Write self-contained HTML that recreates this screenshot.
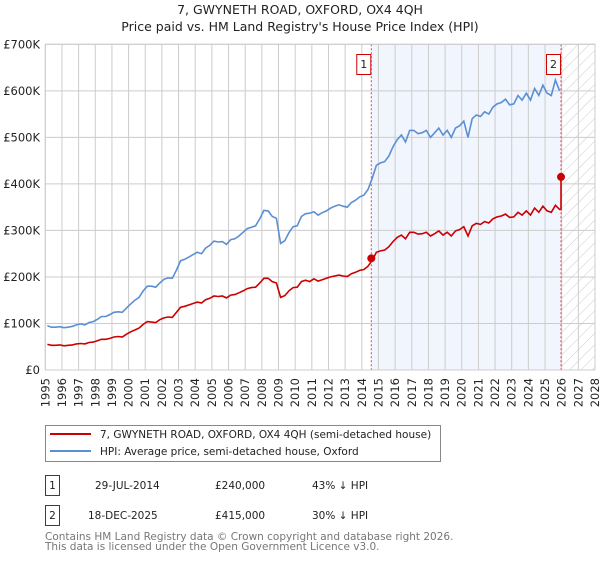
<!DOCTYPE html>
<html><head><meta charset="utf-8"><style>
body{margin:0;background:#fff;}
svg text{font-family:"DejaVu Sans","Liberation Sans",sans-serif;}
</style></head><body>
<svg id="chart" width="600" height="560" xmlns="http://www.w3.org/2000/svg">
<defs>
<pattern id="hatch" width="8" height="8" patternUnits="userSpaceOnUse" patternTransform="rotate(45)">
<rect width="8" height="8" fill="#fff"/><line x1="0" y1="0" x2="0" y2="8" stroke="#cccccc" stroke-width="1"/>
</pattern>
</defs>
<text x="300" y="14" text-anchor="middle" font-size="12.5" fill="#222">7, GWYNETH ROAD, OXFORD, OX4 4QH</text>
<text x="300" y="31" text-anchor="middle" font-size="12.5" fill="#222">Price paid vs. HM Land Registry's House Price Index (HPI)</text>
<g id="plot"></g>
<g>
<rect x="45.5" y="425.5" width="395" height="36" fill="#fff" stroke="#888"/>
<line x1="50" y1="434" x2="91" y2="434" stroke="#cc0000" stroke-width="2"/>
<text x="100" y="438" font-size="10.5" fill="#222">7, GWYNETH ROAD, OXFORD, OX4 4QH (semi-detached house)</text>
<line x1="50" y1="451" x2="91" y2="451" stroke="#5b8fd4" stroke-width="2"/>
<text x="100" y="455" font-size="10.5" fill="#222">HPI: Average price, semi-detached house, Oxford</text>
</g>
<g fill="#222">
<rect x="45.5" y="475.5" width="14" height="20" fill="#fff" stroke="#cc0000"/>
<text x="52.5" y="489" text-anchor="middle" font-size="10.5">1</text>
<text x="95" y="489" font-size="10.5">29-JUL-2014</text>
<text x="215" y="489" font-size="10.5">£240,000</text>
<text x="312" y="489" font-size="10.5">43% ↓ HPI</text>
<rect x="45.5" y="505.5" width="14" height="20" fill="#fff" stroke="#cc0000"/>
<text x="52.5" y="519" text-anchor="middle" font-size="10.5">2</text>
<text x="88" y="519" font-size="10.5">18-DEC-2025</text>
<text x="215" y="519" font-size="10.5">£415,000</text>
<text x="312" y="519" font-size="10.5">30% ↓ HPI</text>
</g>
<text x="45" y="540" font-size="10.5" fill="#777">Contains HM Land Registry data © Crown copyright and database right 2026.</text>
<text x="45" y="550" font-size="10.5" fill="#777">This data is licensed under the Open Government Licence v3.0.</text>
</svg>
<script>
const yTicks=[0,100,200,300,400,500,600,700];
const yTickLabels=["£0","£100K","£200K","£300K","£400K","£500K","£600K","£700K"];
const xYears=[1995,1996,1997,1998,1999,2000,2001,2002,2003,2004,2005,2006,2007,2008,2009,2010,2011,2012,2013,2014,2015,2016,2017,2018,2019,2020,2021,2022,2023,2024,2025,2026,2027,2028];
const hpiStart=1995;
const hpiValues=[95,92,92,93, 91,92,94,97, 99,97,102,104, 109,115,115,119, 124,125,124,133, 142,150,156,170, 180,180,178,187, 195,198,197,215, 235,238,243,248, 253,250,262,268, 277,275,276,270, 280,282,288,296, 304,307,310,325, 343,342,330,326, 272,278,295,308, 310,330,336,337, 340,333,338,342, 348,352,355,352, 350,360,365,372, 376,388,412,440, 445,448,460,480, 495,505,490,515, 515,508,510,515, 500,510,520,505, 515,500,520,525, 535,500,540,548, 545,555,550,565, 572,575,582,570, 572,590,580,595, 580,605,590,612, 595,590,623,600];
const redValues=[55,53,53,54, 52,53,54,56, 57,56,59,60, 63,66,66,68, 71,72,71,77, 82,86,90,98, 104,103,102,108, 112,114,113,124, 135,137,140,143, 146,144,151,154, 159,158,159,155, 161,162,166,170, 175,177,178,187, 197,197,190,187, 156,160,170,177, 178,190,193,190, 196,191,194,197, 200,202,204,202, 201,207,210,214, 216,223,236,253, 256,258,265,276, 285,290,282,296, 296,292,293,296, 288,293,299,290, 296,288,299,302, 308,288,310,315, 313,319,316,325, 329,331,335,328, 329,339,333,342, 333,348,339,352, 342,339,354,345];
const saleDates=[2014.57,2025.96];
const salePrices=[240,415];
const saleLabels=["1","2"];

const X0=45.3,X1=595,Y0=370,Y1=44.3,XMIN=1995,XMAX=2028,VMAX=700;
const xs=t=>X0+(t-XMIN)/(XMAX-XMIN)*(X1-X0);
const ys=v=>Y0-v/VMAX*(Y0-Y1);
const NS="http://www.w3.org/2000/svg";
const plot=document.getElementById('plot');
function mk(tag,attrs,parent){const e=document.createElementNS(NS,tag);for(const k in attrs)e.setAttribute(k,attrs[k]);(parent||plot).appendChild(e);return e;}

let e;
e=mk('rect',{x:xs(saleDates[0]),y:Y1,width:xs(saleDates[1])-xs(saleDates[0]),height:Y0-Y1,fill:'#eef3fc',opacity:0.8});


e=mk('rect',{x:xs(saleDates[1]),y:Y1,width:X1-xs(saleDates[1]),height:Y0-Y1,fill:'url(#hatch)'});



xYears.forEach(y=>{
  e=mk('line',{x1:xs(y),x2:xs(y),y1:Y1,y2:Y0,stroke:'#cccccc','stroke-width':1});
  
  
  e=mk('text',{x:0,y:0,transform:`translate(${xs(y)+4},378) rotate(-90)`,'text-anchor':'end','font-size':11.5,fill:'#222'});
  e.textContent=y;
  
  
});
yTicks.forEach((v,i)=>{
  e=mk('line',{x1:X0,x2:X1,y1:ys(v),y2:ys(v),stroke:'#cccccc','stroke-width':1});
  
  
  e=mk('text',{x:40,y:ys(v)+4,'text-anchor':'end','font-size':11.5,fill:'#222'});
  e.textContent=yTickLabels[i];
  
  
});

saleDates.forEach((d,i)=>{
  e=mk('line',{x1:xs(d),x2:xs(d),y1:Y1,y2:Y0,stroke:'#dd4444','stroke-width':1,'stroke-dasharray':'2,2'});
  
  
});

function pathOf(vals){return vals.map((v,i)=>(i?'L':'M')+xs(hpiStart+i*0.25+0.125).toFixed(1)+','+ys(v).toFixed(1)).join('');}
e=mk('path',{d:pathOf(hpiValues),fill:'none',stroke:'#5b8fd4','stroke-width':1.6});


let rd=pathOf(redValues)+'L'+xs(saleDates[1]).toFixed(1)+','+ys(redValues[redValues.length-1]).toFixed(1)+'L'+xs(saleDates[1]).toFixed(1)+','+ys(salePrices[1]).toFixed(1);
e=mk('path',{d:rd,fill:'none',stroke:'#cc0000','stroke-width':1.6});



saleDates.forEach((d,i)=>{
  e=mk('circle',{cx:xs(d),cy:ys(salePrices[i]),r:4,fill:'#cc0000'});
  
  
  e=mk('rect',{x:xs(d)-14.5,y:54.5,width:14,height:20,fill:'#fff',stroke:'#cc0000'});
  
  
  e=mk('text',{x:xs(d)-7.5,y:68,'text-anchor':'middle','font-size':11,fill:'#222'});
  e.textContent=saleLabels[i];
  
  
});
e=mk('rect',{x:X0,y:Y1,width:X1-X0,height:Y0-Y1,fill:'none',stroke:'#cccccc'});


</script>
</body></html>
